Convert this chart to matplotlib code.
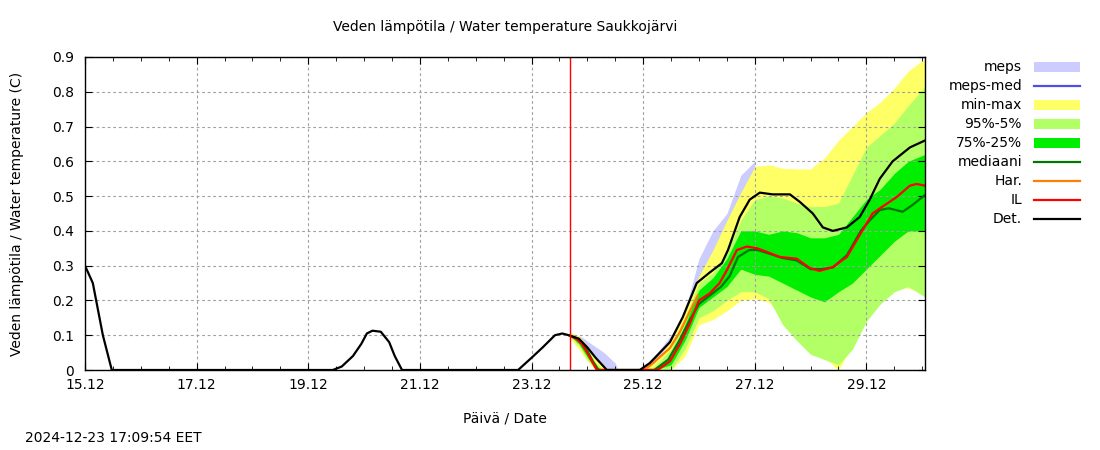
import matplotlib
matplotlib.use("Agg")
import matplotlib.pyplot as plt
from matplotlib.patches import Rectangle
from matplotlib.lines import Line2D

# x = days since 15.12 00:00
tick_pos = [0, 2, 4, 6, 8, 10, 12, 14]
tick_labels = ['15.12', '17.12', '19.12', '21.12', '23.12', '25.12', '27.12', '29.12']
y_ticks = [0, 0.1, 0.2, 0.3, 0.4, 0.5, 0.6, 0.7, 0.8, 0.9]
y_labels = ['0', '0.1', '0.2', '0.3', '0.4', '0.5', '0.6', '0.7', '0.8', '0.9']
now_day = 8.69

# ensemble bands
xf = [8.69, 8.85, 9.0, 9.15, 9.3, 9.45, 9.6, 9.94, 10.2, 10.5, 10.75, 11.0, 11.25, 11.5,
      11.75, 12.0, 12.25, 12.5, 12.75, 13.0, 13.25, 13.5, 13.75, 14.0, 14.25, 14.5, 14.75, 15.05]
v_max = [0.108, 0.098, 0.07, 0.035, 0.008, 0, 0, 0, 0.02, 0.085, 0.18, 0.27, 0.345, 0.43,
         0.51, 0.585, 0.59, 0.58, 0.578, 0.578, 0.61, 0.66, 0.70, 0.74, 0.77, 0.81, 0.86, 0.895]
v_min = [0.092, 0.06, 0.025, 0, 0, 0, 0, 0, 0, 0, 0.04, 0.13, 0.145, 0.17,
         0.20, 0.205, 0.195, 0.15, 0.10, 0.06, 0.035, 0.0, 0.07, 0.16, 0.23, 0.245, 0.235, 0.22]
p95 = [0.104, 0.09, 0.058, 0.02, 0, 0, 0, 0, 0.01, 0.06, 0.15, 0.25, 0.28, 0.34,
       0.43, 0.49, 0.50, 0.495, 0.48, 0.47, 0.47, 0.48, 0.56, 0.64, 0.675, 0.71, 0.76, 0.815]
p5 = [0.096, 0.07, 0.03, 0, 0, 0, 0, 0, 0, 0, 0.06, 0.15, 0.17, 0.20,
      0.225, 0.225, 0.205, 0.13, 0.085, 0.045, 0.03, 0.015, 0.06, 0.14, 0.19, 0.225, 0.24, 0.21]
p75 = [0.101, 0.085, 0.048, 0.01, 0, 0, 0, 0, 0.005, 0.04, 0.13, 0.23, 0.265, 0.32,
       0.40, 0.40, 0.39, 0.40, 0.395, 0.38, 0.38, 0.39, 0.44, 0.49, 0.52, 0.565, 0.60, 0.62]
p25 = [0.098, 0.075, 0.037, 0.002, 0, 0, 0, 0, 0, 0.015, 0.085, 0.18, 0.21, 0.24,
       0.29, 0.275, 0.27, 0.25, 0.23, 0.21, 0.196, 0.225, 0.25, 0.29, 0.33, 0.37, 0.40, 0.40]

# meps band
xm = [8.69, 8.9, 9.1, 9.3, 9.5, 9.55, 9.94, 10.2, 10.5, 10.75, 11.0, 11.25, 11.5, 11.75, 12.0]
meps_hi = [0.108, 0.095, 0.072, 0.05, 0.02, 0, 0, 0.04, 0.10, 0.17, 0.32, 0.40, 0.45, 0.56, 0.60]
meps_lo = [0.09, 0.06, 0.02, 0, 0, 0, 0, 0, 0.02, 0.08, 0.15, 0.20, 0.25, 0.30, 0.35]

# IL
x_il = [8.69, 8.8, 8.9, 9.0, 9.1, 9.17, 10.26, 10.48, 10.66, 10.84, 11.0, 11.19, 11.37, 11.5,
        11.68, 11.86, 12.04, 12.21, 12.45, 12.75, 12.99, 13.16, 13.4, 13.65, 13.88, 14.11,
        14.29, 14.54, 14.78, 14.9, 15.05]
v_il = [0.098, 0.09, 0.075, 0.05, 0.02, 0, 0, 0.025, 0.075, 0.135, 0.20, 0.22, 0.25, 0.287,
        0.345, 0.355, 0.35, 0.34, 0.325, 0.32, 0.293, 0.285, 0.296, 0.325, 0.388, 0.45,
        0.47, 0.497, 0.53, 0.535, 0.53]

# mediaani
x_med = [8.69, 8.8, 8.9, 9.0, 9.1, 9.2, 10.2, 10.45, 10.65, 10.84, 11.0, 11.2, 11.4, 11.55,
         11.7, 11.9, 12.05, 12.25, 12.5, 12.75, 13.0, 13.2, 13.4, 13.65, 13.9, 14.06, 14.24,
         14.4, 14.65, 14.83, 15.05]
v_med = [0.098, 0.092, 0.078, 0.055, 0.025, 0, 0, 0.03, 0.085, 0.145, 0.19, 0.215, 0.24, 0.27,
         0.325, 0.345, 0.345, 0.335, 0.322, 0.315, 0.29, 0.29, 0.295, 0.33, 0.40, 0.43, 0.46,
         0.465, 0.455, 0.475, 0.503]

# Har.
x_har = [10.0, 10.12, 10.48, 10.66, 10.84, 10.98]
v_har = [0, 0.012, 0.063, 0.11, 0.17, 0.215]

# Det. (incl. observed history)
x_det = [0, 0.14, 0.2, 0.32, 0.48, 4.44, 4.6, 4.8, 4.95, 5.05, 5.15, 5.3, 5.45, 5.55, 5.68,
         7.76, 8.0, 8.2, 8.42, 8.55, 8.69, 8.85, 9.0, 9.15, 9.35, 9.94, 10.12, 10.48, 10.71,
         10.96, 11.19, 11.41, 11.52, 11.73, 11.91, 12.09, 12.32, 12.63, 12.81, 13.04, 13.22,
         13.40, 13.65, 13.88, 14.06, 14.24, 14.47, 14.78, 15.05]
v_det = [0.30, 0.25, 0.2, 0.1, 0, 0, 0.01, 0.04, 0.075, 0.105, 0.113, 0.11, 0.08, 0.04, 0,
         0, 0.035, 0.065, 0.1, 0.105, 0.099, 0.09, 0.065, 0.035, 0, 0, 0.02, 0.08, 0.152,
         0.25, 0.28, 0.307, 0.345, 0.44, 0.49, 0.51, 0.505, 0.505, 0.483, 0.45, 0.41,
         0.40, 0.41, 0.44, 0.49, 0.55, 0.60, 0.64, 0.66]

c_meps = '#ccccff'
c_mepsmed = '#4f4fe6'
c_minmax = '#ffff66'
c_9505 = '#b3ff66'
c_7525 = '#00ee00'
c_med = '#007700'
c_har = '#ff8000'
c_il = '#ff0000'

W, H = 1100, 450
fig = plt.figure(figsize=(11, 4.5), dpi=100)
ax = fig.add_axes([85 / W, 1 - 370 / H, 840 / W, 313 / H])

ax.fill_between(xm, meps_lo, meps_hi, color=c_meps, lw=0)
ax.fill_between(xf, v_min, v_max, color=c_minmax, lw=0)
ax.fill_between(xf, p5, p95, color=c_9505, lw=0)
ax.fill_between(xf, p25, p75, color=c_7525, lw=0)
ax.plot(x_med, v_med, color=c_med, lw=1.6)
ax.plot(x_har, v_har, color=c_har, lw=1.6)
ax.plot(x_il, v_il, color=c_il, lw=1.6)
ax.plot(x_det, v_det, color='black', lw=1.6)
ax.axvline(now_day, color='red', lw=1)

ax.set_xlim(0, 15.05)
ax.set_ylim(0, 0.9)
ax.set_xticks(tick_pos)
ax.set_xticklabels(tick_labels)
ax.set_xticks([i * 0.5 for i in range(31)], minor=True)
ax.set_yticks(y_ticks)
ax.set_yticklabels(y_labels)
ax.tick_params(which='both', direction='in', top=True, right=True, labelsize=10)
ax.tick_params(which='major', length=5)
ax.tick_params(which='minor', length=3)
ax.tick_params(axis='y', pad=8)
ax.tick_params(axis='x', pad=6)
ax.grid(True, which='major', color='#a0a0a0', linestyle=(0, (2.5, 2.5)), lw=0.8)
for s in ax.spines.values():
    s.set_linewidth(1)

ax.set_xlabel('Päivä / Date', fontsize=10, labelpad=14)
ax.set_ylabel('Veden lämpötila / Water temperature (C)', fontsize=10, labelpad=20)
fig.text(505 / W, 1 - 27 / H, 'Veden lämpötila / Water temperature Saukkojärvi',
         ha='center', va='center', fontsize=10)
fig.text(25 / W, 1 - 438 / H, '2024-12-23 17:09:54 EET', ha='left', va='center', fontsize=10)

# legend drawn to match right-aligned labels
entries = [('meps', 'band', c_meps), ('meps-med', 'line', c_mepsmed),
           ('min-max', 'band', c_minmax), ('95%-5%', 'band', c_9505),
           ('75%-25%', 'band', c_7525), ('mediaani', 'line', c_med),
           ('Har.', 'line', c_har), ('IL', 'line', c_il), ('Det.', 'line', 'black')]
for i, (lab, kind, col) in enumerate(entries):
    yp = 67 + 19 * i
    fig.text(1022 / W, 1 - yp / H, lab, ha='right', va='center', fontsize=10)
    if kind == 'band':
        fig.patches.append(Rectangle((1034 / W, 1 - (yp + 5) / H), 46 / W, 10 / H,
                                     transform=fig.transFigure, color=col, lw=0))
    else:
        fig.lines.append(Line2D([1034 / W, 1080 / W], [1 - yp / H, 1 - yp / H],
                                transform=fig.transFigure, color=col, lw=1.6))

fig.savefig('out.png', dpi=100)
